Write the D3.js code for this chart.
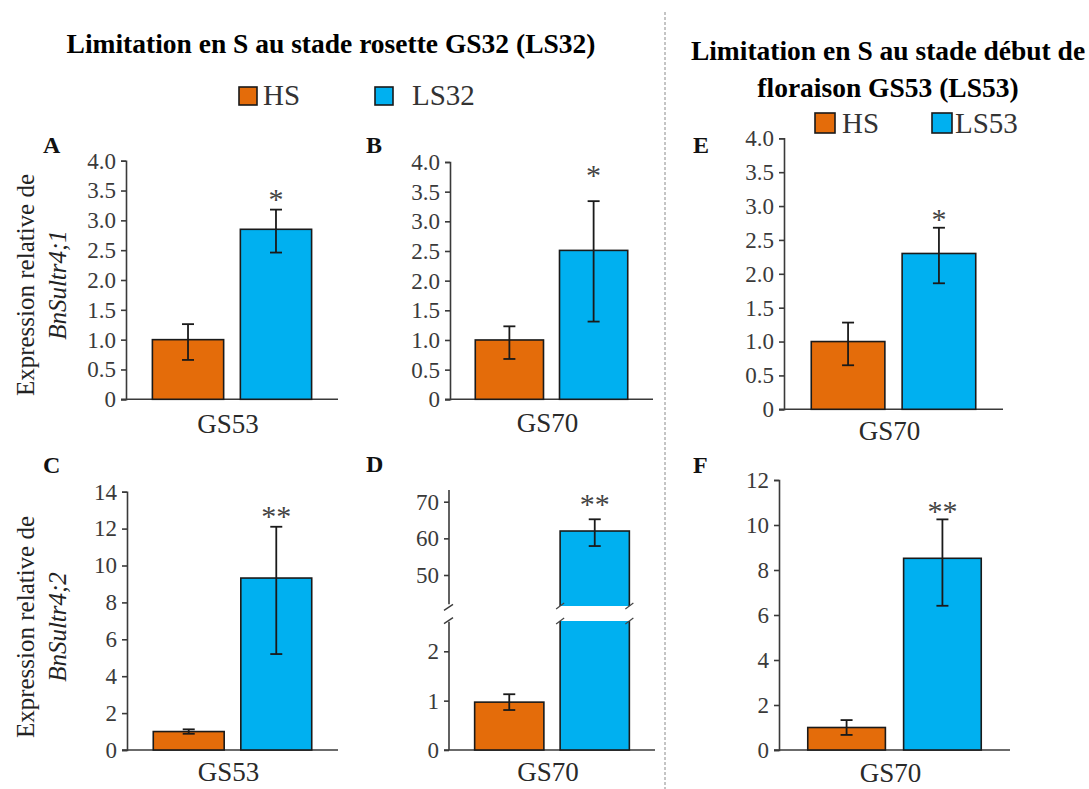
<!DOCTYPE html>
<html><head><meta charset="utf-8">
<script src="https://cdn.jsdelivr.net/npm/d3@7"></script>
<style>
body{margin:0;background:#fff;}
svg{display:block;}
svg text{font-family:"Liberation Serif","DejaVu Serif","Times New Roman",serif;}
</style></head>
<body><svg id="c" width="1089" height="789"></svg>
<script>
// ---- data ----
const panelIds = ["A","B","C","D","E","F"];
const stageLabels = ["GS53","GS70","GS53","GS70","GS70","GS70"];
const groupsLeft = ["HS","LS32"];
const groupsRight = ["HS","LS53"];
const hsMean = [1.00, 1.00, 1.00, 0.97, 1.00, 1.00];
const hsLow  = [0.66, 0.68, 0.88, 0.81, 0.65, 0.67];
const hsHigh = [1.26, 1.23, 1.12, 1.13, 1.28, 1.33];
const lsMean = [2.85, 2.51, 9.32, 62.0, 2.30, 8.52];
const lsLow  = [2.46, 1.31, 5.20, 57.9, 1.86, 6.41];
const lsHigh = [3.18, 3.34, 12.1, 65.2, 2.68, 10.25];
const signif = ["*","*","**","**","*","**"];
const ticks4 = [0,0.5,1,1.5,2,2.5,3,3.5,4];
const ticks14 = [0,2,4,6,8,10,12,14];
const ticks12 = [0,2,4,6,8,10,12];
const ticksDLow = [0,1,2];
const ticksDHigh = [50,60,70];
const titleLeft = "Limitation en S au stade rosette GS32 (LS32)";
const titleRight = ["Limitation en S au stade début de","floraison GS53 (LS53)"];
const yTitle1 = "Expression relative de";
const yGenes = ["BnSultr4;1","BnSultr4;2"];

// ---- style / layout ----
const ORANGE = "#E46C0A", BLUE = "#00B0F0", AX = "#3a3a3a";
const FONT = "Liberation Serif, DejaVu Serif, serif";
const svg = d3.select("#c");

const layout = {
  A:{x0:126,x1:338,y0:399.3,yTop:160.7,max:4,ticks:ticks4,letter:[43,153],labelY:433,gap:15,groups:groupsLeft},
  B:{x0:450,x1:653,y0:399.3,yTop:162,max:4,ticks:ticks4,letter:[366,153],labelY:432,gap:30,groups:groupsLeft},
  C:{x0:127,x1:338,y0:750,yTop:491.7,max:14,ticks:ticks14,letter:[43,473],labelY:781,gap:15,groups:groupsLeft},
  D:{x0:449,x1:655,broken:true,letter:[366,472],labelY:781,gap:19,groups:groupsLeft},
  E:{x0:784,x1:1003,y0:409.3,yTop:138.3,max:4,ticks:ticks4,letter:[693,153],labelY:440,gap:13,groups:groupsRight},
  F:{x0:779,x1:1010,y0:750,yTop:480,max:12,ticks:ticks12,letter:[693,473],labelY:782,gap:12,groups:groupsRight}
};
const fmt = d => d===0 ? "0" : d.toFixed(1);

function styleAxis(g, fs){
  g.attr("font-family",FONT);
  g.select(".domain").attr("stroke",AX).attr("stroke-width",1.6);
  g.selectAll(".tick line").attr("stroke",AX).attr("stroke-width",1.6);
  g.selectAll(".tick text").attr("fill","#3a3a3a").attr("font-size",fs).attr("font-family",FONT);
}

panelIds.forEach((id,i)=>{
  const L = layout[id];
  const x = d3.scaleBand().domain(L.groups).range([L.x0,L.x1]).paddingInner(0.19).paddingOuter(0.3);
  let y;
  if(!L.broken){
    y = d3.scaleLinear().domain([0,L.max]).range([L.y0,L.yTop]);
    const ax = svg.append("g").attr("transform",`translate(${L.x0},0)`)
      .call(d3.axisLeft(y).tickValues(L.ticks).tickFormat(L.max>4?d3.format("d"):fmt).tickSizeOuter(0).tickSize(5).tickPadding(5));
    styleAxis(ax,23);
  } else {
    const yLow = d3.scaleLinear().domain([0,2]).range([750,651.3]);
    const yHigh = d3.scaleLinear().domain([50,70]).range([575,501.7]);
    y = v => v <= 2.6 ? yLow(v) : yHigh(v);
    const a1 = svg.append("g").attr("transform",`translate(${L.x0},0)`)
      .call(d3.axisLeft(yLow).tickValues(ticksDLow).tickFormat(d3.format("d")).tickSize(5).tickPadding(5));
    a1.select(".domain").attr("d",`M0,${yLow(0)}V${yLow(2.6)}`);
    styleAxis(a1,23);
    const a2 = svg.append("g").attr("transform",`translate(${L.x0},0)`)
      .call(d3.axisLeft(yHigh).tickValues(ticksDHigh).tickFormat(d3.format("d")).tickSize(5).tickPadding(5));
    a2.select(".domain").attr("d",`M0,${yHigh(42)}V${yHigh(73.2)}`);
    styleAxis(a2,23);
    // axis break slashes
    [yHigh(42)+3, yLow(2.6)-1].forEach(yy=>{
      svg.append("line").attr("x1",L.x0-5).attr("x2",L.x0+4).attr("y1",yy+3).attr("y2",yy-3)
        .attr("stroke",AX).attr("stroke-width",1.4);
    });
  }
  // x baseline
  svg.append("line").attr("x1",L.x0-5).attr("x2",L.x1).attr("y1",y(0)).attr("y2",y(0))
    .attr("stroke",AX).attr("stroke-width",1.6);

  const bars = [
    {g:L.groups[0],m:hsMean[i],lo:hsLow[i],hi:hsHigh[i],c:ORANGE},
    {g:L.groups[1],m:lsMean[i],lo:lsLow[i],hi:lsHigh[i],c:BLUE}
  ];
  svg.append("g").selectAll("rect").data(bars).join("rect")
    .attr("x",d=>x(d.g)).attr("width",x.bandwidth())
    .attr("y",d=>y(d.m)).attr("height",d=>y(0)-y(d.m))
    .attr("fill",d=>d.c).attr("stroke","#1a1a1a").attr("stroke-width",1.6);

  if(L.broken){
    const bx = x(L.groups[1]), bw = x.bandwidth();
    const yb1 = 606, yb2 = 621;
    svg.append("rect").attr("x",bx-3).attr("y",yb1).attr("width",bw+6).attr("height",yb2-yb1)
      .attr("fill","#fff");
    [bx, bx+bw].forEach(xx=>{
      [yb1, yb2].forEach(yy=>{
        svg.append("line").attr("x1",xx-4).attr("x2",xx+4).attr("y1",yy+3).attr("y2",yy-3)
          .attr("stroke","#444").attr("stroke-width",1.2);
      });
    });
  }

  // error bars
  const eg = svg.append("g").attr("stroke","#1a1a1a").attr("stroke-width",1.8);
  bars.forEach(d=>{
    const cx = x(d.g)+x.bandwidth()/2;
    eg.append("line").attr("x1",cx).attr("x2",cx).attr("y1",y(d.lo)).attr("y2",y(d.hi));
    [d.lo,d.hi].forEach(v=>eg.append("line").attr("x1",cx-6).attr("x2",cx+6).attr("y1",y(v)).attr("y2",y(v)));
  });
  // significance
  const sx = x(L.groups[1])+x.bandwidth()/2;
  svg.append("text").attr("x",sx).attr("y",y(lsHigh[i])-L.gap+14)
    .attr("text-anchor","middle").attr("font-size",30).attr("font-family",FONT).attr("fill","#444").text(signif[i]);
  // category label
  svg.append("text").attr("x",(x(L.groups[0])+x(L.groups[1])+x.bandwidth())/2-4).attr("y",L.labelY)
    .attr("text-anchor","middle").attr("font-size",27).attr("font-family",FONT).attr("fill","#2a2a2a").text(stageLabels[i]);
  // panel letter
  svg.append("text").attr("x",L.letter[0]).attr("y",L.letter[1])
    .attr("font-size",24).attr("font-weight","bold").attr("font-family",FONT).attr("fill","#111").text(id);
});

// y-axis titles
[[285,0],[627,1]].forEach(([cy,k])=>{
  svg.append("text").attr("transform",`translate(34,${cy}) rotate(-90)`).attr("text-anchor","middle")
    .attr("font-size",25).attr("font-family",FONT).attr("fill","#222").text(yTitle1);
  svg.append("text").attr("transform",`translate(66,${cy}) rotate(-90)`).attr("text-anchor","middle")
    .attr("font-size",25).attr("font-style","italic").attr("font-family",FONT).attr("fill","#222").text(yGenes[k]);
});

// titles
svg.append("text").attr("x",331).attr("y",53).attr("text-anchor","middle")
  .attr("font-size",27.5).attr("font-weight","bold").attr("font-family",FONT).attr("fill","#000").text(titleLeft);
titleRight.forEach((t,k)=>{
  svg.append("text").attr("x",888).attr("y",60+k*37).attr("text-anchor","middle")
    .attr("font-size",27.5).attr("font-weight","bold").attr("font-family",FONT).attr("fill","#000").text(t);
});

// legends
function legend(items, pos){
  items.forEach((t,k)=>{
    const p = pos[k];
    svg.append("rect").attr("x",p[0]).attr("y",p[1]).attr("width",p[2]).attr("height",p[2])
      .attr("fill",k===0?ORANGE:BLUE).attr("stroke","#1a1a1a").attr("stroke-width",1.6);
    svg.append("text").attr("x",p[3]).attr("y",p[1]+p[2]).attr("font-size",29).attr("font-family",FONT).attr("fill","#333").text(t);
  });
}
legend(groupsLeft, [[239,87,18,263],[375,87,18,412]]);
legend(groupsRight, [[815,113,20,842],[932,113,20,955]]);

// separator
svg.append("line").attr("x1",665).attr("x2",665).attr("y1",12).attr("y2",789)
  .attr("stroke","#8a8a8a").attr("stroke-width",1).attr("stroke-dasharray","3,2");
</script></body></html>
